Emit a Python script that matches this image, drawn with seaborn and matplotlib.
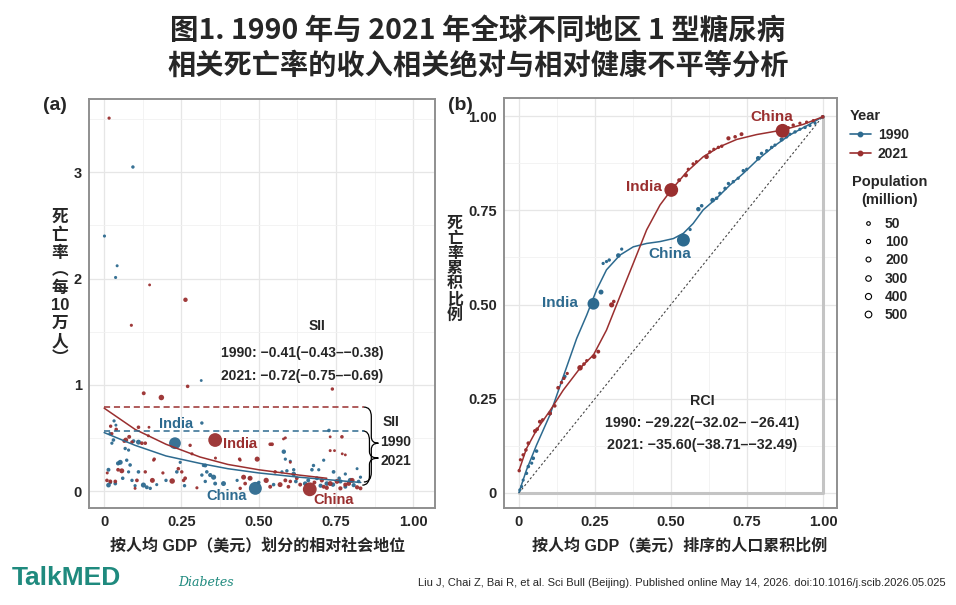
import numpy as np
import pandas as pd
import matplotlib
matplotlib.use("Agg")
import matplotlib.pyplot as plt
import seaborn as sns
from matplotlib.lines import Line2D
from matplotlib.path import Path
from matplotlib.patches import PathPatch
from matplotlib.ticker import MultipleLocator

BLUE = "#2D6A8F"
RED = "#9A2F2F"

# ---- panel (a): mortality rate vs relative social position ----
a90_x = [0.093, 0.001, 0.042, 0.037, 0.314, 0.316, 0.727, 0.229, 0.489, 0.581,
         0.032, 0.038, 0.019, 0.030, 0.025, 0.068, 0.079, 0.111, 0.095, 0.052,
         0.045, 0.014, 0.014, 0.036, 0.073, 0.084, 0.079, 0.090, 0.111, 0.127,
         0.138, 0.149, 0.235, 0.246, 0.327, 0.316, 0.321, 0.332, 0.343, 0.327,
         0.354, 0.386, 0.359, 0.586, 0.602, 0.613, 0.591, 0.575, 0.548, 0.710,
         0.677, 0.694, 0.672, 0.742, 0.780, 0.796, 0.764, 0.613, 0.688, 0.720,
         0.807, 0.829, 0.823, 0.818, 0.650, 0.660, 0.700, 0.740, 0.760, 0.620,
         0.780, 0.500, 0.470, 0.430, 0.200, 0.170, 0.060, 0.100, 0.020, 0.260]
a90_y = [3.05, 2.40, 2.12, 2.01, 1.04, 0.64, 0.57, 0.45, 0.025, 0.37,
         0.66, 0.62, 0.54, 0.48, 0.45, 0.40, 0.385, 0.46, 0.47, 0.27,
         0.26, 0.20, 0.055, 0.07, 0.29, 0.245, 0.18, 0.10, 0.18, 0.056,
         0.035, 0.025, 0.18, 0.27, 0.24, 0.15, 0.24, 0.18, 0.15, 0.09,
         0.13, 0.07, 0.07, 0.30, 0.28, 0.16, 0.19, 0.18, 0.06, 0.29,
         0.24, 0.20, 0.20, 0.18, 0.16, 0.10, 0.09, 0.20, 0.12, 0.07,
         0.055, 0.13, 0.09, 0.21, 0.07, 0.10, 0.05, 0.06, 0.12, 0.09,
         0.04, 0.08, 0.12, 0.10, 0.10, 0.06, 0.12, 0.05, 0.08, 0.05]
a90_pop = [8, 5, 4, 5, 3, 8, 10, 850, 1150, 25,
           6, 4, 8, 10, 6, 8, 6, 40, 12, 40,
           20, 15, 30, 12, 8, 10, 6, 8, 10, 45,
           15, 8, 10, 6, 15, 8, 6, 10, 20, 8,
           45, 40, 15, 6, 5, 30, 8, 6, 10, 6,
           8, 6, 10, 12, 6, 40, 20, 8, 15, 30,
           20, 6, 10, 4, 25, 15, 20, 25, 10, 12,
           15, 10, 8, 6, 8, 5, 10, 6, 10, 8]

a21_x = [0.016, 0.147, 0.263, 0.088, 0.270, 0.738, 0.128, 0.185, 0.359, 0.665,
         0.769, 0.543, 0.495, 0.438, 0.586, 0.220, 0.156, 0.524,
         0.021, 0.039, 0.025, 0.070, 0.081, 0.111, 0.122, 0.133, 0.143, 0.145,
         0.162, 0.057, 0.009, 0.020, 0.036, 0.106, 0.133, 0.240, 0.251, 0.257,
         0.262, 0.278, 0.284, 0.100, 0.473, 0.440, 0.537, 0.580, 0.451, 0.472,
         0.456, 0.440, 0.553, 0.569, 0.586, 0.596, 0.602, 0.537, 0.731, 0.745,
         0.770, 0.780, 0.731, 0.731, 0.753, 0.764, 0.791, 0.802, 0.818, 0.829,
         0.704, 0.710, 0.623, 0.634, 0.602, 0.010, 0.045, 0.065, 0.090, 0.160,
         0.190, 0.360, 0.300, 0.680, 0.720, 0.780]
a21_y = [3.51, 1.94, 1.80, 1.56, 0.985, 0.96, 0.92, 0.88, 0.48, 0.016,
         0.51, 0.44, 0.30, 0.30, 0.50, 0.094, 0.10, 0.10,
         0.61, 0.58, 0.54, 0.48, 0.51, 0.60, 0.45, 0.45, 0.52, 0.60,
         0.30, 0.19, 0.10, 0.09, 0.09, 0.10, 0.18, 0.21, 0.18, 0.10,
         0.12, 0.43, 0.35, 0.025, 0.42, 0.29, 0.44, 0.49, 0.13, 0.12,
         0.07, 0.025, 0.18, 0.06, 0.10, 0.04, 0.09, 0.04, 0.38, 0.38,
         0.35, 0.34, 0.51, 0.07, 0.09, 0.025, 0.07, 0.10, 0.035, 0.025,
         0.10, 0.04, 0.12, 0.06, 0.27, 0.17, 0.20, 0.47, 0.46, 0.29,
         0.17, 0.31, 0.03, 0.08, 0.03, 0.06]
a21_pop = [6, 3, 25, 5, 10, 8, 15, 60, 1400, 1410,
           10, 12, 45, 8, 4, 60, 40, 50,
           8, 10, 6, 35, 15, 10, 12, 10, 4, 3,
           8, 40, 10, 15, 12, 12, 8, 10, 8, 10,
           12, 8, 5, 4, 3, 3, 10, 3, 40, 40,
           12, 8, 10, 40, 15, 12, 10, 15, 4, 3,
           3, 3, 3, 40, 35, 20, 30, 40, 20, 15,
           20, 15, 12, 15, 3, 4, 12, 12, 10, 4,
           6, 4, 5, 15, 20, 20]

# fitted curves
fit90_x = [0.0, 0.1, 0.2, 0.31, 0.4, 0.5, 0.63, 0.73, 0.83]
fit90_y = [0.55, 0.43, 0.33, 0.26, 0.21, 0.17, 0.13, 0.105, 0.08]
fit21_x = [0.0, 0.1, 0.2, 0.31, 0.4, 0.5, 0.63, 0.72]
fit21_y = [0.78, 0.58, 0.44, 0.32, 0.25, 0.20, 0.15, 0.12]
sii_top = {"1990": 0.567, "2021": 0.79}
sii_bottom = {"1990": 0.055, "2021": 0.085}
sii_end = 0.84

# ---- panel (b): concentration curves ----
b90_x = [0.003, 0.009, 0.014, 0.025, 0.031, 0.042, 0.047, 0.058, 0.102, 0.151,
         0.245, 0.270, 0.277, 0.288, 0.297, 0.327, 0.338, 0.541, 0.563, 0.590,
         0.601, 0.637, 0.650, 0.661, 0.678, 0.689, 0.705, 0.721, 0.738, 0.749,
         0.787, 0.798, 0.815, 0.831, 0.842, 0.864, 0.880, 0.891, 0.908, 0.924,
         0.941, 0.957, 0.974, 0.999]
b90_y = [0.008, 0.017, 0.034, 0.052, 0.070, 0.079, 0.092, 0.111, 0.211, 0.309,
         0.502, 0.533, 0.609, 0.614, 0.618, 0.630, 0.647, 0.671, 0.699, 0.753,
         0.762, 0.777, 0.782, 0.795, 0.808, 0.821, 0.826, 0.835, 0.855, 0.859,
         0.888, 0.901, 0.908, 0.917, 0.923, 0.938, 0.945, 0.952, 0.958, 0.965,
         0.970, 0.975, 0.981, 0.998]
b90_pop = [5, 5, 5, 8, 10, 6, 12, 10, 15, 10,
           850, 40, 6, 6, 8, 30, 6, 1150, 6, 25,
           10, 30, 10, 8, 10, 8, 8, 6, 10, 6,
           30, 8, 8, 8, 6, 20, 10, 6, 8, 6,
           8, 6, 5, 10]

b21_x = [0.001, 0.005, 0.014, 0.023, 0.031, 0.053, 0.060, 0.069, 0.078, 0.102,
         0.118, 0.129, 0.140, 0.148, 0.159, 0.201, 0.214, 0.223, 0.247, 0.261,
         0.305, 0.312, 0.501, 0.527, 0.549, 0.557, 0.573, 0.584, 0.617, 0.628,
         0.641, 0.656, 0.667, 0.689, 0.711, 0.732, 0.867, 0.886, 0.902, 0.924,
         0.946, 0.968, 0.999]
b21_y = [0.059, 0.088, 0.101, 0.114, 0.132, 0.164, 0.169, 0.189, 0.194, 0.211,
         0.231, 0.279, 0.293, 0.304, 0.317, 0.332, 0.342, 0.351, 0.362, 0.375,
         0.499, 0.508, 0.804, 0.830, 0.843, 0.859, 0.873, 0.879, 0.892, 0.905,
         0.912, 0.917, 0.920, 0.941, 0.945, 0.952, 0.961, 0.969, 0.976, 0.981,
         0.984, 0.988, 0.998]
b21_pop = [8, 6, 8, 10, 12, 20, 12, 15, 8, 20,
           10, 12, 8, 8, 6, 60, 10, 6, 35, 15,
           45, 10, 1400, 15, 20, 6, 8, 6, 30, 8,
           6, 8, 8, 20, 10, 15, 1410, 8, 8, 6,
           6, 6, 12]

curve90_x = [0.0, 0.025, 0.058, 0.102, 0.146, 0.190, 0.223, 0.255, 0.288, 0.332,
             0.376, 0.420, 0.464, 0.508, 0.541, 0.573, 0.606, 0.650, 0.694, 0.738,
             0.782, 0.837, 0.891, 0.946, 0.999]
curve90_y = [0.001, 0.061, 0.127, 0.207, 0.309, 0.410, 0.472, 0.538, 0.592, 0.631,
             0.653, 0.662, 0.667, 0.675, 0.689, 0.715, 0.751, 0.782, 0.817, 0.848,
             0.882, 0.919, 0.950, 0.974, 0.998]
curve21_x = [0.001, 0.025, 0.058, 0.102, 0.146, 0.201, 0.245, 0.288, 0.332, 0.376,
             0.420, 0.464, 0.501, 0.552, 0.606, 0.661, 0.716, 0.782, 0.867, 0.935,
             0.999]
curve21_y = [0.061, 0.118, 0.167, 0.218, 0.273, 0.331, 0.366, 0.432, 0.521, 0.609,
             0.698, 0.764, 0.804, 0.852, 0.892, 0.919, 0.938, 0.951, 0.963, 0.978,
             0.998]

sns.set_style("white")
plt.rcParams["font.family"] = ["Liberation Sans", "Noto Sans CJK SC", "DejaVu Sans"]
plt.rcParams["axes.unicode_minus"] = True

fig = plt.figure(figsize=(9.56, 6.05), dpi=100)
ax1 = fig.add_axes([89 / 956, 97 / 605, 346 / 956, 409 / 605])
ax2 = fig.add_axes([504 / 956, 97 / 605, 333 / 956, 410 / 605])


def marker_area(pop):
    # ggplot-like size scale: diameter grows with a root of the population
    d_px = 1.4 + 12.4 * (np.asarray(pop, dtype=float) / 1410) ** 0.35
    return (d_px * 0.72) ** 2


def style_axes(ax, major, minor_x, minor_y, major_y):
    ax.xaxis.set_major_locator(MultipleLocator(major))
    ax.xaxis.set_minor_locator(MultipleLocator(minor_x))
    ax.yaxis.set_major_locator(MultipleLocator(major_y))
    ax.yaxis.set_minor_locator(MultipleLocator(minor_y))
    ax.grid(which="major", color="#e6e6e6", lw=0.9)
    ax.grid(which="minor", color="#f1f1f1", lw=0.6)
    ax.set_axisbelow(True)
    for sp in ax.spines.values():
        sp.set_color("#8f8f8f")
        sp.set_linewidth(1.4)
    ax.tick_params(which="major", length=3, width=0.8, color="#8f8f8f",
                   labelsize=10.5, pad=2)
    ax.tick_params(which="minor", length=0)
    for lab in ax.get_xticklabels() + ax.get_yticklabels():
        lab.set_fontweight("bold")
    ax.set_xlabel("")
    ax.set_ylabel("")


def fmt(v, pos=None):
    return "0" if abs(v) < 1e-9 else f"{v:.2f}"


# ---------- panel (a) ----------
df90 = pd.DataFrame({"x": a90_x, "y": a90_y, "pop": a90_pop})
df21 = pd.DataFrame({"x": a21_x, "y": a21_y, "pop": a21_pop})
sns.scatterplot(data=df90, x="x", y="y", s=marker_area(df90["pop"]),
                color=BLUE, linewidth=0, alpha=0.95, legend=False, ax=ax1)
sns.scatterplot(data=df21, x="x", y="y", s=marker_area(df21["pop"]),
                color=RED, linewidth=0, alpha=0.95, legend=False, ax=ax1)
ax1.plot(fit90_x, fit90_y, color=BLUE, lw=1.1)
ax1.plot(fit21_x, fit21_y, color=RED, lw=1.1)
ax1.hlines(sii_top["2021"], 0, sii_end, colors=RED, linestyles=(0, (4, 2.5)), lw=1.1)
ax1.hlines(sii_top["1990"], 0, sii_end, colors=BLUE, linestyles=(0, (4, 2.5)), lw=1.1)


def brace(ax, x0, x1, xt, ytop, ybot, ytip, r=0.09, rt=0.06):
    verts = [(x0, ytop), (x1, ytop), (x1, ytop - r),
             (x1, ytip + rt),
             (x1, ytip), (xt, ytip),
             (x1, ytip), (x1, ytip - rt),
             (x1, ybot + r),
             (x1, ybot), (x0, ybot)]
    codes = [Path.MOVETO, Path.CURVE3, Path.CURVE3,
             Path.LINETO,
             Path.CURVE3, Path.CURVE3,
             Path.CURVE3, Path.CURVE3,
             Path.LINETO,
             Path.CURVE3, Path.CURVE3]
    ax.add_patch(PathPatch(Path(verts, codes), fc="none", ec="black", lw=0.9,
                           clip_on=False))


brace(ax1, sii_end, 0.864, 0.887, sii_top["2021"], sii_bottom["2021"], 0.45)
brace(ax1, sii_end - 0.005, 0.858, 0.887, sii_top["1990"], sii_bottom["1990"], 0.31)
ax1.text(0.90, 0.65, "SII", fontsize=10, fontweight="bold", va="center")
ax1.text(0.893, 0.457, "1990", fontsize=10, fontweight="bold", va="center")
ax1.text(0.893, 0.28, "2021", fontsize=10, fontweight="bold", va="center")

ax1.text(0.688, 1.55, "SII", fontsize=10, fontweight="bold", ha="center", va="center")
ax1.text(0.379, 1.30, "1990: \u22120.41(\u22120.43\u2013\u22120.38)", fontsize=10,
         fontweight="bold", va="center")
ax1.text(0.379, 1.085, "2021: \u22120.72(\u22120.75\u2013\u22120.69)", fontsize=10,
         fontweight="bold", va="center")
ax1.text(0.233, 0.627, "India", color=BLUE, fontsize=10.5, fontweight="bold",
         ha="center", va="center")
ax1.text(0.438, 0.44, "India", color=RED, fontsize=10.5, fontweight="bold",
         ha="center", va="center")
ax1.text(0.397, -0.047, "China", color=BLUE, fontsize=10.5, fontweight="bold",
         ha="center", va="center")
ax1.text(0.742, -0.085, "China", color=RED, fontsize=10.5, fontweight="bold",
         ha="center", va="center")

ax1.set_xlim(-0.049, 1.07)
ax1.set_ylim(-0.16, 3.69)
style_axes(ax1, 0.25, 0.125, 0.5, 1)
ax1.xaxis.set_major_formatter(fmt)
ax1.yaxis.set_major_formatter(lambda v, p: f"{v:.0f}")

# ---------- panel (b) ----------
ax2.plot([0, 1, 1], [0, 0, 1], color="#c4c4c4", lw=2.2, zorder=1)
ax2.plot([0, 1], [0, 1], color="#444444", lw=0.8, ls=(0, (2, 2)), zorder=1)
ax2.plot(curve90_x, curve90_y, color=BLUE, lw=1.1, zorder=2)
ax2.plot(curve21_x, curve21_y, color=RED, lw=1.1, zorder=2)
db90 = pd.DataFrame({"x": b90_x, "y": b90_y, "pop": b90_pop})
db21 = pd.DataFrame({"x": b21_x, "y": b21_y, "pop": b21_pop})
sns.scatterplot(data=db90, x="x", y="y", s=marker_area(db90["pop"]),
                color=BLUE, linewidth=0, legend=False, ax=ax2, zorder=3)
sns.scatterplot(data=db21, x="x", y="y", s=marker_area(db21["pop"]),
                color=RED, linewidth=0, legend=False, ax=ax2, zorder=3)

ax2.text(0.831, 0.998, "China", color=RED, fontsize=11, fontweight="bold",
         ha="center", va="center")
ax2.text(0.411, 0.8126, "India", color=RED, fontsize=11, fontweight="bold",
         ha="center", va="center")
ax2.text(0.497, 0.633, "China", color=BLUE, fontsize=11, fontweight="bold",
         ha="center", va="center")
ax2.text(0.135, 0.505, "India", color=BLUE, fontsize=11, fontweight="bold",
         ha="center", va="center")
ax2.text(0.604, 0.245, "RCI", fontsize=10.3, fontweight="bold", ha="center", va="center")
ax2.text(0.604, 0.185, "1990: \u221229.22(\u221232.02\u2013 \u221226.41)", fontsize=10.3,
         fontweight="bold", ha="center", va="center")
ax2.text(0.604, 0.126, "2021: \u221235.60(\u221238.71\u2013\u221232.49)", fontsize=10.3,
         fontweight="bold", ha="center", va="center")

ax2.set_xlim(-0.049, 1.046)
ax2.set_ylim(-0.04, 1.048)
style_axes(ax2, 0.25, 0.125, 0.125, 0.25)
ax2.xaxis.set_major_formatter(fmt)
ax2.yaxis.set_major_formatter(fmt)

# ---------- labels ----------
fig.text(55 / 956, 1 - 105 / 605, "(a)", fontsize=14, fontweight="bold",
         ha="center", va="center")
fig.text(460 / 956, 1 - 105 / 605, "(b)", fontsize=14, fontweight="bold",
         ha="center", va="center")
fig.text(258 / 956, 1 - 545 / 605, "按人均 GDP（美元）划分的相对社会地位", fontsize=11.5,
         fontweight="bold", ha="center", va="center")
fig.text(680 / 956, 1 - 545 / 605, "按人均 GDP（美元）排序的人口累积比例", fontsize=11.5,
         fontweight="bold", ha="center", va="center")
ylab_a = ["死", "亡", "率", "︵", "每", "10", "万", "人", "︶"]
ylab_b = list("死亡率累积比例")
fig.text(60 / 956, 1 - 288 / 605, "\n".join(ylab_a), fontsize=12, fontweight="bold",
         ha="center", va="center", linespacing=1.2)
fig.text(455 / 956, 1 - 269 / 605, "\n".join(ylab_b), fontsize=11.5, fontweight="bold",
         ha="center", va="center", linespacing=1.02)

fig.text(478 / 956, 1 - 31 / 605, "图1. 1990 年与 2021 年全球不同地区 1 型糖尿病",
         fontsize=20.5, fontweight="bold", ha="center", va="center",
         family=["Liberation Sans Narrow", "Noto Sans CJK SC", "DejaVu Sans"])
fig.text(478 / 956, 1 - 66 / 605, "相关死亡率的收入相关绝对与相对健康不平等分析",
         fontsize=20.3, fontweight="bold", ha="center", va="center",
         family=["Noto Sans CJK SC", "DejaVu Sans"])

# ---------- legends ----------
year_handles = [Line2D([], [], color=c, marker="o", ms=3.2, lw=1.2) for c in (BLUE, RED)]
leg1 = fig.legend(year_handles, ["1990", "2021"], title="Year", loc="upper left",
                  bbox_to_anchor=(850 / 956, 1 - 109 / 605), frameon=False,
                  prop={"weight": "bold", "size": 10}, handlelength=1.5,
                  handletextpad=0.5, labelspacing=0.35, borderaxespad=0,
                  borderpad=0, alignment="left")
leg1.get_title().set_fontweight("bold")
leg1.get_title().set_fontsize(10.5)

fig.text(890 / 956, 1 - 191 / 605, "Population\n(million)", fontsize=10.5,
         fontweight="bold", ha="center", va="center", multialignment="center",
         linespacing=1.4)
pop_levels = ["50", "100", "200", "300", "400", "500"]
pop_ms = [2.6, 3.0, 3.5, 4.0, 4.4, 4.8]
pop_handles = [Line2D([], [], ls="none", marker="o", ms=m, mfc="none", mec="black",
                      mew=0.8) for m in pop_ms]
fig.legend(pop_handles, pop_levels, loc="upper left",
           bbox_to_anchor=(860 / 956, 1 - 217 / 605), frameon=False,
           prop={"weight": "bold", "size": 10}, handlelength=1.2,
           handletextpad=0.6, labelspacing=0.3, borderaxespad=0, borderpad=0)

# ---------- footer ----------
fig.text(12 / 956, 1 - 578 / 605, "TalkMED", fontsize=19, fontweight="bold",
         color="#1F8A7E", va="center",
         family=["Liberation Sans Narrow", "Liberation Sans"])
fig.text(178 / 956, 1 - 583 / 605, "Diabetes", fontsize=9, fontstyle="italic",
         color="#1F8A7E", va="center", family=["DejaVu Serif"])
fig.text(946 / 956, 1 - 583 / 605,
         "Liu J, Chai Z, Bai R, et al. Sci Bull (Beijing). Published online May 14, 2026. "
         "doi:10.1016/j.scib.2026.05.025",
         fontsize=8, ha="right", va="center",
         family=["Liberation Sans Narrow", "Liberation Sans"])

fig.savefig("out.png", dpi=100)
